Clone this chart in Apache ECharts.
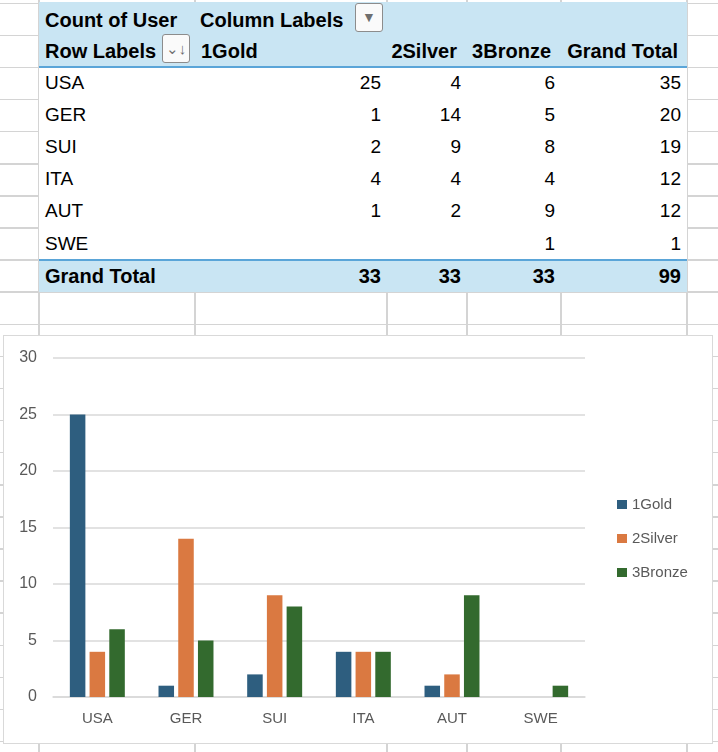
<!DOCTYPE html>
<html>
<head>
<meta charset="utf-8">
<script src="https://cdn.jsdelivr.net/npm/echarts@6/dist/echarts.min.js"></script>
<style>
  html, body { margin: 0; padding: 0; background: #fff; }
  body { width: 718px; height: 752px; position: relative; overflow: hidden;
         font-family: "Liberation Sans", Arial, sans-serif; }
  .gl { position: absolute; background: #d4d4d4; }
  #pivot { position: absolute; left: 39px; top: 2px; width: 648px; height: 290px; background: #fff; }
  .band { position: absolute; left: 0; width: 648px; background: #c9e5f3; }
  .bline { position: absolute; left: 0; width: 648px; height: 2px; background: #5aa5d8; }
  .cell { position: absolute; height: 32px; line-height: 32px; font-size: 19px; color: #000; white-space: nowrap; }
  .b { font-weight: bold; font-size: 20px; }
  .btn { position: absolute; width: 28px; height: 29px; border: 1px solid #8c8c8c; border-radius: 3px;
         background: #fafafa; box-sizing: border-box; color: #6e6e6e; text-align: center; }
  #chartBox { position: absolute; left: 3px; top: 335px; width: 710px; height: 409px;
              border: 1px solid #d9d9d9; box-sizing: border-box; background: #fff; }
  #chart { position: absolute; left: 0; top: 0; width: 708px; height: 407px; }
</style>
</head>
<body>
<div id="pivot"></div>
<div id="chartBox"><div id="chart"></div></div>
<script>
// 数据
const countries = ['USA', 'GER', 'SUI', 'ITA', 'AUT', 'SWE'];
const seriesNames = ['1Gold', '2Silver', '3Bronze'];
const gold = [25, 1, 2, 4, 1, null];
const silver = [4, 14, 9, 4, 2, null];
const bronze = [6, 5, 8, 4, 9, 1];
const yTicks = [0, 5, 10, 15, 20, 25, 30];
const colors = ['#2e5e7f', '#da7941', '#336a2e'];

// 表格网格线
const colLines = [39, 195, 387, 467, 561, 687];
const rowH = 32.1;
for (let i = 0; i < 24; i++) {
    let d = document.createElement('div');
    d.className = 'gl';
    d.style.left = '0px'; d.style.width = '718px';
    d.style.top = (2.5 + i * rowH) + 'px'; d.style.height = '1.5px';
    document.body.insertBefore(d, document.body.firstChild);
}
for (let x of colLines) {
    let d = document.createElement('div');
    d.className = 'gl';
    d.style.left = (x - 0.75) + 'px'; d.style.width = '1.5px';
    d.style.top = '0px'; d.style.height = '752px';
    document.body.insertBefore(d, document.body.firstChild);
}

// 透视表
const pivot = document.getElementById('pivot');
function addEl(cls, css, text) {
    let d = document.createElement('div');
    d.className = cls;
    Object.assign(d.style, css);
    if (text !== undefined) d.textContent = text;
    pivot.appendChild(d);
    return d;
}
addEl('band', { top: '0px', height: '65px' });
addEl('bline', { top: '64px' });
addEl('band', { top: '257px', height: '33px' });
addEl('bline', { top: '257px' });

// 列的右边界（相对表格）
const colRight = [348, 428, 522, 648];
const rowTop = i => (65 + i * rowH) + 'px';

addEl('cell b', { left: '6px', top: '2px' }, 'Count of User');
addEl('cell b', { left: '161px', top: '2px' }, 'Column Labels');
addEl('cell b', { left: '6px', top: '33px' }, 'Row Labels');
addEl('cell b', { left: '162px', top: '33px' }, seriesNames[0]);
addEl('cell b', { right: (648 - 418) + 'px', top: '33px' }, seriesNames[1]);
addEl('cell b', { right: (648 - 512) + 'px', top: '33px' }, seriesNames[2]);
addEl('cell b', { right: (648 - 639) + 'px', top: '33px' }, 'Grand Total');
addEl('btn', { left: '316px', top: '1px', lineHeight: '27px', fontSize: '14px' }, '▼');
addEl('btn', { left: '123px', top: '32px', lineHeight: '27px', fontSize: '15px' }, '⌄↓');

const totals = [];
countries.forEach((c, i) => {
    let vals = [gold[i], silver[i], bronze[i]];
    let t = vals.reduce((a, v) => a + (v || 0), 0);
    totals.push(t);
    addEl('cell', { left: '6px', top: rowTop(i) }, c);
    vals.concat([t]).forEach((v, j) => {
        if (v === null) return;
        addEl('cell', { right: (648 - colRight[j] + 6) + 'px', top: rowTop(i) }, v);
    });
});
const sum = arr => arr.reduce((a, v) => a + (v || 0), 0);
addEl('cell b', { left: '6px', top: '257.5px' }, 'Grand Total');
[sum(gold), sum(silver), sum(bronze), sum(totals)].forEach((v, j) => {
    addEl('cell b', { right: (648 - colRight[j] + 6) + 'px', top: '257.5px' }, v);
});

// 图表
const myChart = echarts.init(document.getElementById('chart'));
const font = '"Liberation Sans", Arial, sans-serif';
const option = {
    animation: false,
    color: colors,
    textStyle: { fontFamily: font },
    grid: { left: 49, right: 127, top: 22, bottom: 46, containLabel: false },
    legend: {
        orient: 'vertical',
        left: 608,
        top: 156,
        itemWidth: 10,
        itemHeight: 9,
        itemGap: 19,
        itemTextGap: 5,
        icon: 'rect',
        data: seriesNames,
        textStyle: { color: '#595959', fontSize: 15, lineHeight: 15, fontFamily: font }
    },
    xAxis: {
        type: 'category',
        data: countries,
        axisLine: { lineStyle: { color: '#d9d9d9', width: 1.5 } },
        axisTick: { show: false },
        axisLabel: { color: '#595959', fontSize: 15, margin: 14, fontFamily: font },
        splitLine: { show: false }
    },
    yAxis: {
        type: 'value',
        min: yTicks[0],
        max: yTicks[yTicks.length - 1],
        interval: yTicks[1] - yTicks[0],
        axisLine: { show: false },
        axisTick: { show: false },
        axisLabel: { color: '#595959', fontSize: 16, margin: 16, fontFamily: font },
        splitLine: { lineStyle: { color: '#d9d9d9', width: 1.5 } }
    },
    series: [
        { name: seriesNames[0], type: 'bar', data: gold, barGap: '27%', barCategoryGap: '38%' },
        { name: seriesNames[1], type: 'bar', data: silver, barGap: '27%', barCategoryGap: '38%' },
        { name: seriesNames[2], type: 'bar', data: bronze, barGap: '27%', barCategoryGap: '38%' }
    ]
};
myChart.setOption(option);
</script>
</body>
</html>
